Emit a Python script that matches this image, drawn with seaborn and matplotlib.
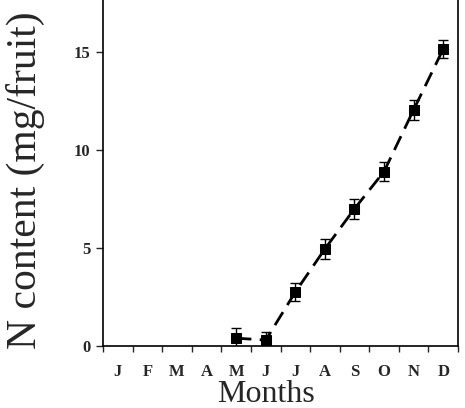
import numpy as np
import pandas as pd
import matplotlib
matplotlib.use('Agg')
import matplotlib.pyplot as plt
import seaborn as sns

# data (May .. Dec)
month_labels = ['J', 'F', 'M', 'A', 'M', 'J', 'J', 'A', 'S', 'O', 'N', 'D']
month_idx = [4, 5, 6, 7, 8, 9, 10, 11]
n_content = [0.4, 0.3, 2.75, 4.95, 7.0, 8.9, 12.05, 15.15]
n_err = [0.5, 0.4, 0.45, 0.5, 0.5, 0.5, 0.5, 0.45]

sns.set_style('ticks')
plt.rcParams['font.family'] = ['Liberation Serif', 'DejaVu Serif']

fig = plt.figure(figsize=(4.65, 4.08), dpi=100)
ax = fig.add_axes([0.2215, 0.152, 0.7635, 0.848])

df = pd.DataFrame({'month': np.array(month_idx) + 0.5, 'n': n_content, 'err': n_err})

ax.errorbar(df['month'], df['n'], yerr=df['err'], fmt='none', ecolor='black',
            elinewidth=1, capsize=3.5, capthick=1, zorder=3)
sns.lineplot(data=df, x='month', y='n', ax=ax, color='black', linewidth=2,
             linestyle=(0, (5.5, 3)), marker='s', markersize=7,
             markerfacecolor='black', markeredgecolor='black', zorder=4)

ax.set_xlim(0, 12)
ax.set_ylim(0, 17.65)

# major ticks at month boundaries, labels centred in between
ax.set_xticks(range(13))
ax.set_xticklabels([])
ax.set_xticks(np.arange(12) + 0.5, minor=True)
ax.set_xticklabels(month_labels, minor=True, fontweight='bold', fontsize=12)
ax.tick_params(axis='x', which='minor', length=0, pad=13)
ax.tick_params(axis='x', which='major', direction='out', length=4.5, width=1)

ax.set_yticks([0, 5, 10, 15])
ax.set_yticklabels(['0', '5', '10', '15'], fontweight='bold', fontsize=12)
ax.tick_params(axis='y', direction='out', length=5, width=1, pad=4)

for s in ['left', 'bottom', 'right']:
    ax.spines[s].set_linewidth(1.2)
    ax.spines[s].set_color('black')
ax.spines['top'].set_visible(False)

ax.set_xlabel('Months', fontsize=23)
ax.xaxis.set_label_coords(0.46, -0.097)
ax.set_ylabel('N content (mg/fruit)', fontsize=30)
ax.yaxis.set_label_coords(-0.163, 0.48)

fig.savefig('out.png', dpi=100)
